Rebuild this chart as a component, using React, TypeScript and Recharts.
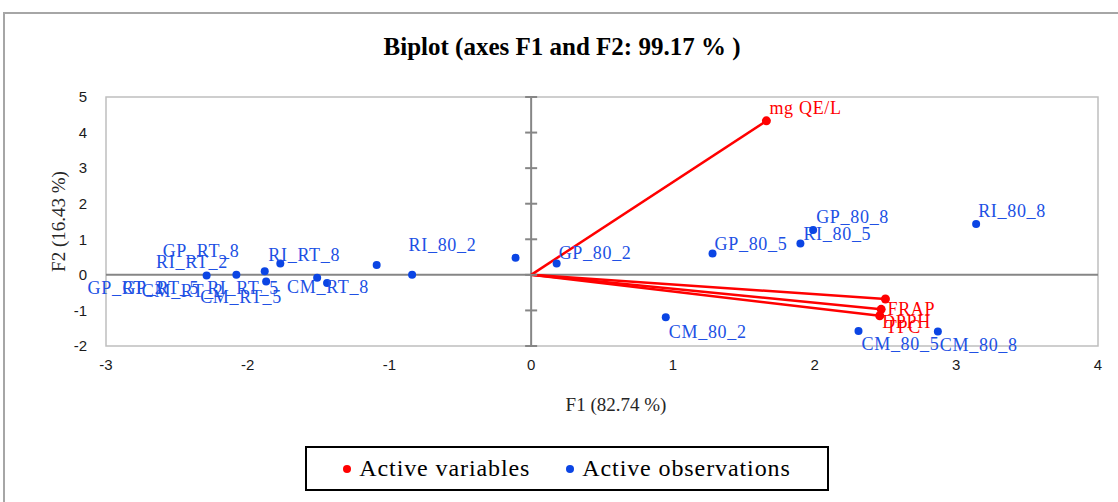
import {
  ScatterChart,
  Scatter,
  XAxis,
  YAxis,
  ReferenceLine,
  ReferenceArea,
  Label,
} from "recharts";

const obsNames = [
  "GP_RT_2", "GP_RT_5", "CM_RT_2", "RI_RT_5", "RI_RT_8", "CM_RT_5", "CM_RT_8", "GP_RT_8", "RI_RT_2",
  "RI_80_2", "GP_80_2", "GP_80_5", "RI_80_5", "GP_80_8", "RI_80_8", "CM_80_2", "CM_80_5", "CM_80_8",
];
const obsF1 = [-2.29, -2.08, -1.88, -1.87, -1.77, -1.51, -1.44, -1.09, -0.84, -0.11, 0.18, 1.28, 1.9, 1.99, 3.14, 0.95, 2.31, 2.87];
const obsF2 = [-0.02, 0.0, 0.1, -0.19, 0.32, -0.08, -0.23, 0.28, 0.0, 0.48, 0.32, 0.6, 0.88, 1.26, 1.43, -1.19, -1.58, -1.59];

const varNames = ["mg QE/L", "FRAP", "DPPH", "TPC"];
const varF1 = [1.66, 2.5, 2.47, 2.46];
const varF2 = [4.33, -0.68, -0.97, -1.15];

const xTicks = [-3, -2, -1, 0, 1, 2, 3, 4];
const yTicks = [-2, -1, 0, 1, 2, 3, 4, 5];

// label placement (pixels from the dot), like XLSTAT's de-cluttered labels
const labelOffset: Record<string, [number, number]> = {
  GP_RT_2: [-119, 18],
  GP_RT_5: [-114, 19],
  CM_RT_2: [-123, 26],
  RI_RT_5: [-59, 12],
  RI_RT_8: [-12, -2],
  CM_RT_5: [-117, 25],
  CM_RT_8: [-40, 10],
  GP_RT_8: [-214, -8],
  RI_RT_2: [-256, -7],
  RI_80_2: [-107, -7],
  GP_80_2: [2, -4],
  GP_80_5: [2, -4],
  RI_80_5: [3, -4],
  GP_80_8: [3, -7],
  RI_80_8: [2, -7],
  CM_80_2: [3, 21],
  CM_80_5: [3, 19],
  CM_80_8: [2, 20],
  "mg QE/L": [3, -7],
  FRAP: [2, 16],
  DPPH: [1, 19],
  TPC: [6, 17],
};

const RED = "#FF0000";
const BLUE = "#0B45E4";
const SERIF = "'Liberation Serif', 'Times New Roman', serif";
const SANS = "'Liberation Sans', Arial, sans-serif";

const obsData = obsNames.map((name, i) => ({ name, x: obsF1[i], y: obsF2[i] }));
const varData = varNames.map((name, i) => ({ name, x: varF1[i], y: varF2[i] }));
const axisTickData = yTicks.map((t) => ({ x: 0, y: t }));

function PointWithLabel(color: string, textColor: string, r: number) {
  return (props: any) => {
    const { cx, cy, payload } = props;
    const off = labelOffset[payload.name] || [3, -6];
    return (
      <g>
        <circle cx={cx} cy={cy} r={r} fill={color} />
        <text
          x={cx + off[0]}
          y={cy + off[1]}
          fill={textColor}
          fontFamily={SERIF}
          fontSize={18}
          letterSpacing={0.7}
        >
          {payload.name}
        </text>
      </g>
    );
  };
}

function AxisTick(props: any) {
  const { cx, cy } = props;
  return <line x1={cx - 6} x2={cx + 6} y1={cy} y2={cy} stroke="#868686" strokeWidth={2} />;
}

export default function App() {
  return (
    <div
      style={{
        position: "absolute",
        left: 0,
        top: 0,
        width: 1118,
        height: 502,
        background: "#fff",
        overflow: "hidden",
      }}
    >
      <div
        style={{
          position: "absolute",
          left: 3,
          top: 12,
          width: 1130,
          height: 520,
          border: "2px solid #A6A6A6",
        }}
      />
      <div
        style={{
          position: "absolute",
          left: 0,
          top: 33,
          width: 1124,
          textAlign: "center",
          fontFamily: SERIF,
          fontWeight: "bold",
          fontSize: 25,
          color: "#000",
        }}
      >
        Biplot (axes F1 and F2: 99.17 % )
      </div>

      <div style={{ position: "absolute", left: 0, top: 0 }}>
        <ScatterChart
          width={1118}
          height={502}
          margin={{ top: 97, right: 20, left: 0, bottom: 76 }}
        >
          <XAxis
            type="number"
            dataKey="x"
            domain={[-3, 4]}
            ticks={xTicks}
            height={80}
            axisLine={false}
            tickLine={false}
            tickSize={0}
            tickMargin={13}
            tick={{ fill: "#1a1a1a", fontSize: 15, fontFamily: SANS }}
          >
            <Label
              content={(p: any) => {
                const vb = p.viewBox;
                return (
                  <text
                    x={vb.x + vb.width / 2 + 14}
                    y={vb.y + 65}
                    textAnchor="middle"
                    fill="#262626"
                    fontFamily={SERIF}
                    fontSize={19}
                  >
                    F1 (82.74 %)
                  </text>
                );
              }}
            />
          </XAxis>
          <YAxis
            type="number"
            dataKey="y"
            domain={[-2, 5]}
            ticks={yTicks}
            width={106}
            axisLine={false}
            tickLine={false}
            tickSize={0}
            tickMargin={19}
            tick={{ fill: "#1a1a1a", fontSize: 15, fontFamily: SANS }}
          >
            <Label
              content={(p: any) => {
                const vb = p.viewBox;
                const cy = vb.y + vb.height / 2;
                return (
                  <text
                    x={65}
                    y={cy}
                    transform={`rotate(-90, 65, ${cy})`}
                    textAnchor="middle"
                    fill="#262626"
                    fontFamily={SERIF}
                    fontSize={19}
                  >
                    F2 (16.43 %)
                  </text>
                );
              }}
            />
          </YAxis>

          <ReferenceArea
            x1={-3}
            x2={4}
            y1={-2}
            y2={5}
            fill="none"
            fillOpacity={0}
            stroke="#BFBFBF"
            strokeWidth={1.5}
          />
          <ReferenceLine x={0} stroke="#868686" strokeWidth={2} />
          <ReferenceLine y={0} stroke="#868686" strokeWidth={2} />

          <Scatter
            data={axisTickData}
            shape={AxisTick}
            legendType="none"
            isAnimationActive={false}
          />

          {varData.map((v) => (
            <ReferenceLine
              key={v.name}
              segment={[
                { x: 0, y: 0 },
                { x: v.x, y: v.y },
              ]}
              stroke={RED}
              strokeWidth={2.5}
            />
          ))}

          <Scatter
            name="Active observations"
            data={obsData}
            shape={PointWithLabel(BLUE, "#2050E4", 4)}
            isAnimationActive={false}
          />
          <Scatter
            name="Active variables"
            data={varData}
            shape={PointWithLabel(RED, RED, 4.5)}
            isAnimationActive={false}
          />
        </ScatterChart>
      </div>

      <div
        style={{
          position: "absolute",
          left: 305,
          top: 446,
          width: 520,
          height: 41,
          border: "2px solid #000",
          display: "flex",
          alignItems: "center",
          justifyContent: "center",
          fontFamily: SERIF,
          fontSize: 24,
          letterSpacing: 0.9,
          color: "#000",
        }}
      >
        <span style={{ width: 8, height: 8, borderRadius: 4, background: RED, marginRight: 8 }} />
        <span style={{ marginRight: 36 }}>Active variables</span>
        <span style={{ width: 8, height: 8, borderRadius: 4, background: BLUE, marginRight: 8 }} />
        <span>Active observations</span>
      </div>
    </div>
  );
}
